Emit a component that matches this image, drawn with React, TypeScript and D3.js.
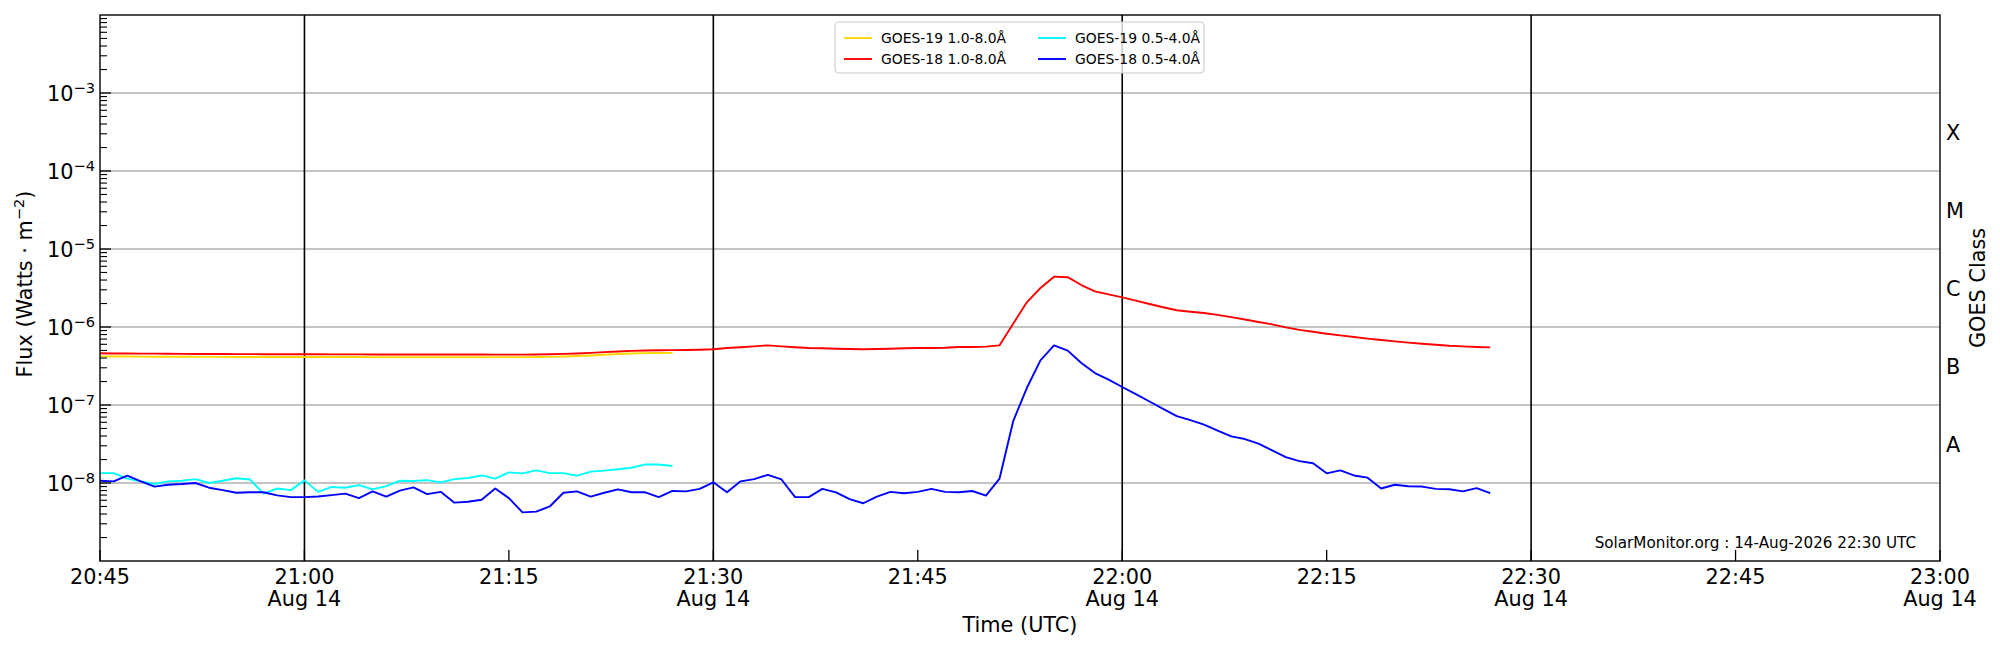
import React, { useEffect, useRef } from 'react';
import * as d3 from 'd3';

// one sample per minute, starting 14-Aug-2026 20:45 UTC
const startTime = Date.UTC(2026, 7, 14, 20, 45);
const endTime = Date.UTC(2026, 7, 14, 23, 0);

const goes19Long = [
  4.20e-7, 4.19e-7, 4.18e-7, 4.17e-7, 4.16e-7, 4.15e-7, 4.15e-7, 4.14e-7, 4.14e-7, 4.14e-7,
  4.13e-7, 4.13e-7, 4.13e-7, 4.13e-7, 4.12e-7, 4.12e-7, 4.12e-7, 4.12e-7, 4.12e-7, 4.12e-7,
  4.11e-7, 4.11e-7, 4.11e-7, 4.11e-7, 4.11e-7, 4.11e-7, 4.11e-7, 4.11e-7, 4.11e-7, 4.11e-7,
  4.11e-7, 4.11e-7, 4.12e-7, 4.14e-7, 4.18e-7, 4.24e-7, 4.32e-7, 4.40e-7, 4.50e-7, 4.58e-7,
  4.63e-7, 4.65e-7, 4.66e-7,
];

const goes18Long = [
  4.60e-7, 4.58e-7, 4.57e-7, 4.56e-7, 4.55e-7, 4.53e-7, 4.52e-7, 4.51e-7, 4.50e-7, 4.50e-7,
  4.49e-7, 4.49e-7, 4.48e-7, 4.48e-7, 4.47e-7, 4.47e-7, 4.47e-7, 4.46e-7, 4.46e-7, 4.46e-7,
  4.45e-7, 4.45e-7, 4.45e-7, 4.45e-7, 4.45e-7, 4.44e-7, 4.44e-7, 4.44e-7, 4.44e-7, 4.43e-7,
  4.43e-7, 4.43e-7, 4.45e-7, 4.48e-7, 4.52e-7, 4.58e-7, 4.66e-7, 4.76e-7, 4.86e-7, 4.94e-7,
  5.00e-7, 5.03e-7, 5.06e-7, 5.08e-7, 5.12e-7, 5.18e-7, 5.38e-7, 5.49e-7, 5.65e-7, 5.82e-7,
  5.65e-7, 5.49e-7, 5.38e-7, 5.33e-7, 5.27e-7, 5.22e-7, 5.18e-7, 5.22e-7, 5.27e-7, 5.33e-7,
  5.38e-7, 5.38e-7, 5.43e-7, 5.55e-7, 5.55e-7, 5.60e-7, 5.82e-7, 1.10e-6, 2.07e-6, 3.16e-6,
  4.42e-6, 4.35e-6, 3.45e-6, 2.86e-6, 2.62e-6, 2.40e-6, 2.18e-6, 1.97e-6, 1.79e-6, 1.64e-6,
  1.57e-6, 1.51e-6, 1.43e-6, 1.34e-6, 1.25e-6, 1.16e-6, 1.08e-6, 9.90e-7, 9.20e-7, 8.70e-7,
  8.20e-7, 7.80e-7, 7.45e-7, 7.10e-7, 6.80e-7, 6.55e-7, 6.30e-7, 6.10e-7, 5.93e-7, 5.76e-7,
  5.65e-7, 5.54e-7, 5.48e-7,
];

const goes19Short = [
  1.34e-8, 1.34e-8, 1.14e-8, 1.05e-8, 0.97e-8, 1.05e-8, 1.07e-8, 1.12e-8, 1.00e-8, 1.07e-8,
  1.15e-8, 1.11e-8, 0.73e-8, 0.85e-8, 0.81e-8, 1.08e-8, 0.77e-8, 0.89e-8, 0.87e-8, 0.94e-8,
  0.83e-8, 0.91e-8, 1.07e-8, 1.06e-8, 1.09e-8, 1.02e-8, 1.12e-8, 1.16e-8, 1.25e-8, 1.14e-8,
  1.37e-8, 1.33e-8, 1.45e-8, 1.34e-8, 1.34e-8, 1.24e-8, 1.40e-8, 1.44e-8, 1.50e-8, 1.57e-8,
  1.73e-8, 1.73e-8, 1.65e-8,
];

const goes18Short = [
  1.07e-8, 1.05e-8, 1.24e-8, 1.05e-8, 0.90e-8, 0.95e-8, 0.97e-8, 1.00e-8, 0.87e-8, 0.81e-8,
  0.75e-8, 0.76e-8, 0.76e-8, 0.695e-8, 0.66e-8, 0.66e-8, 0.67e-8, 0.70e-8, 0.73e-8, 0.64e-8,
  0.78e-8, 0.67e-8, 0.80e-8, 0.88e-8, 0.72e-8, 0.77e-8, 0.56e-8, 0.575e-8, 0.61e-8, 0.85e-8,
  0.64e-8, 0.42e-8, 0.43e-8, 0.50e-8, 0.75e-8, 0.78e-8, 0.67e-8, 0.75e-8, 0.83e-8, 0.76e-8,
  0.76e-8, 0.66e-8, 0.79e-8, 0.78e-8, 0.84e-8, 1.02e-8, 0.76e-8, 1.05e-8, 1.12e-8, 1.27e-8,
  1.11e-8, 0.66e-8, 0.66e-8, 0.84e-8, 0.76e-8, 0.62e-8, 0.55e-8, 0.67e-8, 0.77e-8, 0.74e-8,
  0.77e-8, 0.84e-8, 0.77e-8, 0.76e-8, 0.79e-8, 0.69e-8, 1.14e-8, 6.2e-8, 1.65e-7, 3.74e-7,
  5.80e-7, 4.98e-7, 3.45e-7, 2.57e-7, 2.11e-7, 1.70e-7, 1.38e-7, 1.11e-7, 8.9e-8, 7.2e-8,
  6.4e-8, 5.6e-8, 4.7e-8, 3.96e-8, 3.66e-8, 3.19e-8, 2.62e-8, 2.15e-8, 1.91e-8, 1.79e-8,
  1.33e-8, 1.45e-8, 1.25e-8, 1.17e-8, 0.85e-8, 0.95e-8, 0.91e-8, 0.90e-8, 0.84e-8, 0.83e-8,
  0.78e-8, 0.86e-8, 0.74e-8,
];

const seriesNames = ['GOES-19 1.0-8.0Å', 'GOES-18 1.0-8.0Å', 'GOES-19 0.5-4.0Å', 'GOES-18 0.5-4.0Å'];
const seriesColors = ['#ffd700', '#ff0000', '#00ffff', '#0000ff'];
const seriesData = [goes19Long, goes18Long, goes19Short, goes18Short];

const yLabelExponents = [-3, -4, -5, -6, -7, -8];
const classLetters = ['A', 'B', 'C', 'M', 'X'];
const classFloors = [1e-8, 1e-7, 1e-6, 1e-5, 1e-4];
const markerTimes = [
  Date.UTC(2026, 7, 14, 21, 0),
  Date.UTC(2026, 7, 14, 21, 30),
  Date.UTC(2026, 7, 14, 22, 0),
  Date.UTC(2026, 7, 14, 22, 30),
];
const stamp = 'SolarMonitor.org : 14-Aug-2026 22:30 UTC';

const FONT = 'DejaVu Sans, sans-serif';

const GoesPlot: React.FC = () => {
  const svgRef = useRef<SVGSVGElement>(null);
  const width = 2000;
  const height = 650;

  useEffect(() => {
    document.body.style.margin = '0';
    document.body.style.overflow = 'hidden';
    if (!svgRef.current) return;

    const svg = d3.select(svgRef.current);
    svg.selectAll('*').remove();

    const left = 100, right = 1940, top = 15, bottom = 561;

    const x = d3.scaleUtc().domain([startTime, endTime]).range([left, right]);
    const y = d3.scaleLog().domain([1e-9, 1e-2]).range([bottom, top]);

    // horizontal grid at each decade
    const decades = d3.range(-8, -2).map((e) => Math.pow(10, e));
    svg.append('g')
      .selectAll('line')
      .data(decades)
      .join('line')
      .attr('x1', left)
      .attr('x2', right)
      .attr('y1', (d) => y(d))
      .attr('y2', (d) => y(d))
      .attr('stroke', '#b0b0b0')
      .attr('stroke-width', 1.3);

    // vertical lines every 30 min
    svg.append('g')
      .selectAll('line')
      .data(markerTimes)
      .join('line')
      .attr('x1', (d) => x(d))
      .attr('x2', (d) => x(d))
      .attr('y1', top)
      .attr('y2', bottom)
      .attr('stroke', '#000')
      .attr('stroke-width', 1.6);

    // flux curves
    const line = d3.line<number>()
      .x((_, i) => x(startTime + i * 60000))
      .y((d) => y(d));

    seriesData.forEach((data, k) => {
      svg.append('path')
        .datum(data)
        .attr('d', line)
        .attr('fill', 'none')
        .attr('stroke', seriesColors[k])
        .attr('stroke-width', 1.9)
        .attr('stroke-linejoin', 'round');
    });

    // left ticks (inward), major + minor
    const minorTicks: number[] = [];
    for (let e = -9; e < -2; e++) {
      for (let m = 2; m <= 9; m++) minorTicks.push(m * Math.pow(10, e));
    }
    svg.append('g')
      .selectAll('line')
      .data(minorTicks)
      .join('line')
      .attr('x1', left)
      .attr('x2', left + 7)
      .attr('y1', (d) => y(d))
      .attr('y2', (d) => y(d))
      .attr('stroke', '#000')
      .attr('stroke-width', 1.1);
    svg.append('g')
      .selectAll('line')
      .data(decades)
      .join('line')
      .attr('x1', left)
      .attr('x2', left + 11)
      .attr('y1', (d) => y(d))
      .attr('y2', (d) => y(d))
      .attr('stroke', '#000')
      .attr('stroke-width', 1.3);

    // y tick labels 10^n
    const yLabels = svg.append('g')
      .selectAll('text')
      .data(yLabelExponents)
      .join('text')
      .attr('x', left - 5)
      .attr('y', (d) => y(Math.pow(10, d)) + 7.6)
      .attr('text-anchor', 'end')
      .style('font-family', FONT)
      .style('font-size', '20.8px')
      .style('fill', '#000');
    yLabels.append('tspan').text('10');
    yLabels.append('tspan')
      .attr('dy', -8)
      .style('font-size', '14.6px')
      .text((d) => `\u2212${Math.abs(d)}`);

    // bottom ticks and time labels
    const timeTicks = d3.utcMinute.every(15)!.range(new Date(startTime), new Date(endTime + 1));
    svg.append('g')
      .selectAll('line')
      .data(timeTicks)
      .join('line')
      .attr('x1', (d) => x(d))
      .attr('x2', (d) => x(d))
      .attr('y1', bottom)
      .attr('y2', bottom - 11)
      .attr('stroke', '#000')
      .attr('stroke-width', 1.3);

    const hhmm = d3.utcFormat('%H:%M');
    const dayFmt = d3.utcFormat('%b %d');
    const xLabels = svg.append('g')
      .selectAll('text')
      .data(timeTicks)
      .join('text')
      .attr('x', (d) => x(d))
      .attr('y', bottom + 23)
      .attr('text-anchor', 'middle')
      .style('font-family', FONT)
      .style('font-size', '20.8px')
      .style('fill', '#000');
    xLabels.append('tspan').text((d) => hhmm(d));
    // date under the half-hour ticks
    xLabels.filter((d) => d.getUTCMinutes() % 30 === 0)
      .append('tspan')
      .attr('x', (d) => x(d))
      .attr('dy', 22)
      .text((d) => dayFmt(d));

    // frame
    svg.append('rect')
      .attr('x', left)
      .attr('y', top)
      .attr('width', right - left)
      .attr('height', bottom - top)
      .attr('fill', 'none')
      .attr('stroke', '#000')
      .attr('stroke-width', 1.4);

    // axis labels
    svg.append('text')
      .attr('x', (left + right) / 2)
      .attr('y', 632)
      .attr('text-anchor', 'middle')
      .style('font-family', FONT)
      .style('font-size', '20.8px')
      .text('Time (UTC)');

    const yTitle = svg.append('text')
      .attr('transform', `translate(32,${(top + bottom) / 2 - 4}) rotate(-90)`)
      .attr('text-anchor', 'middle')
      .style('font-family', FONT)
      .style('font-size', '20.8px');
    yTitle.append('tspan').text('Flux (Watts \u00b7 m');
    yTitle.append('tspan').attr('dy', -8).style('font-size', '14.6px').text('\u22122');
    yTitle.append('tspan').attr('dy', 8).text(')');

    // GOES class letters on the right
    svg.append('g')
      .selectAll('text')
      .data(classLetters)
      .join('text')
      .attr('x', right + 6)
      .attr('y', (_, i) => y(classFloors[i] * Math.sqrt(10)) + 7.6)
      .style('font-family', FONT)
      .style('font-size', '20.8px')
      .text((d) => d);

    svg.append('text')
      .attr('transform', `translate(1985,${(top + bottom) / 2}) rotate(-90)`)
      .attr('text-anchor', 'middle')
      .style('font-family', FONT)
      .style('font-size', '20.8px')
      .text('GOES Class');

    // timestamp
    svg.append('text')
      .attr('x', 1916)
      .attr('y', 548)
      .attr('text-anchor', 'end')
      .style('font-family', FONT)
      .style('font-size', '15.2px')
      .text(stamp);

    // legend
    const lg = svg.append('g');
    lg.append('rect')
      .attr('x', 835)
      .attr('y', 22)
      .attr('width', 369)
      .attr('height', 51)
      .attr('rx', 4)
      .attr('fill', '#fff')
      .attr('fill-opacity', 0.8)
      .attr('stroke', '#cccccc')
      .attr('stroke-width', 1.1);
    seriesNames.forEach((name, k) => {
      const col = Math.floor(k / 2);
      const row = k % 2;
      const lx = col === 0 ? 844 : 1038;
      const ly = row === 0 ? 38 : 59;
      lg.append('line')
        .attr('x1', lx)
        .attr('x2', lx + 28)
        .attr('y1', ly)
        .attr('y2', ly)
        .attr('stroke', seriesColors[k])
        .attr('stroke-width', 1.9);
      lg.append('text')
        .attr('x', lx + 37)
        .attr('y', ly + 5)
        .style('font-family', FONT)
        .style('font-size', '13.9px')
        .text(name);
    });
  }, []);

  return (
    <svg ref={svgRef} width={width} height={height} style={{ display: 'block', background: '#fff' }} />
  );
};

export default function App() {
  return <GoesPlot />;
}
